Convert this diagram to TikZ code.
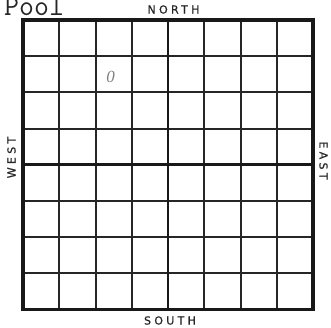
\documentclass[tikz,border=0pt]{standalone}
\usepackage{fontspec}
\setmainfont{Liberation Serif}
\newfontfamily\dirfont[LetterSpace=30,FakeBold=0.6]{DejaVu Sans}
\begin{document}
\begin{tikzpicture}[x=1pt,y=-1pt,
  thin grid/.style={line width=2pt,color=black!85},
  mid grid/.style={line width=2.8pt,color=black!90},
  border/.style={line width=3.8pt,color=black!90},
  dirlabel/.style={font=\dirfont\fontsize{11}{12}\selectfont,inner sep=0pt,color=black!85},
  scribble/.style={font=\itshape\fontsize{17}{17}\selectfont,color=black!50,inner sep=0pt}]
\useasboundingbox (0,0) rectangle (331,327);
\clip (0,0) rectangle (331,327);
\fill[white] (0,0) rectangle (331,327);
% grid
\foreach \i in {1,2,3,5,6,7}{
  \draw[thin grid] ({23+\i*36.25},20) -- ({23+\i*36.25},309.5);
  \draw[thin grid] (23,{20+\i*36.2}) -- (313,{20+\i*36.2});
}
\draw[mid grid] (168,20) -- (168,309.5);
\draw[mid grid] (23,164.8) -- (313,164.8);
\draw[border] (23,20) rectangle (313,309.5);
% labels
\node[font=\ttfamily\fontsize{29}{29}\selectfont,anchor=base west,inner sep=0pt,color=black!85] (pool) at (4,15.5) {Pool};
\node[dirlabel] (north) at (173.5,9.5) {NORTH};
\node[dirlabel] (south) at (170,320.5) {SOUTH};
\node[dirlabel,rotate=90] (west) at (11.5,157.5) {WEST};
\node[dirlabel,rotate=-90] (east) at (323.5,160.5) {EAST};
\node[scribble] (zero) at (110.5,77) {0};
\end{tikzpicture}
\end{document}
